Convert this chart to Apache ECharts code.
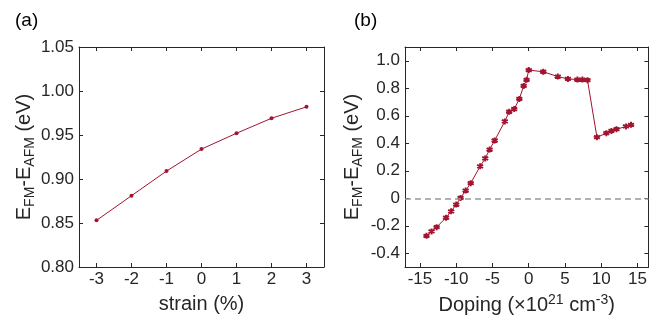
<!DOCTYPE html>
<html>
<head>
<meta charset="utf-8">
<script src="https://cdn.jsdelivr.net/npm/echarts@6/dist/echarts.min.js"></script>
<style>
	html, body { margin: 0; padding: 0; background: #fff; }
	#main { width: 650px; height: 325px; }
</style>
</head>
<body>
<div id="main"></div>
<script>
// (a) strain
var strain = [-3, -2, -1, 0, 1, 2, 3];
var strainE = [0.853, 0.881, 0.909, 0.934, 0.952, 0.969, 0.982];
var strainTicks = [-3, -2, -1, 0, 1, 2, 3];
var energyTicksA = [0.80, 0.85, 0.90, 0.95, 1.00, 1.05];

// (b) doping
var doping = [-14.1, -13.4, -12.7, -11.4, -10.7, -10.0, -9.4, -8.7, -8.0, -6.7, -6.0, -5.4, -4.7,
	-3.3, -2.7, -2.0, -1.3, -0.7, -0.3, 0, 2.0, 4.0, 5.4, 6.7, 7.4, 8.1, 9.4, 10.7, 11.4, 12.1, 13.4, 14.1];
var dopingE = [-0.273, -0.241, -0.210, -0.141, -0.095, -0.046, 0.002, 0.056, 0.110, 0.232, 0.290, 0.354, 0.420,
	0.559, 0.629, 0.649, 0.722, 0.817, 0.861, 0.932, 0.920, 0.885, 0.868, 0.863, 0.863, 0.859, 0.444, 0.473, 0.490, 0.502, 0.522, 0.534];
var dopingTicks = [-15, -10, -5, 0, 5, 10, 15];
var energyTicksB = [-0.4, -0.2, 0, 0.2, 0.4, 0.6, 0.8, 1.0];

var RED = '#A2142F';
var AXIS = '#262626';
var FONT = 'Liberation Sans, Arial, sans-serif';
var STAR = 'path://M5,0L5,10M0.67,2.5L9.33,7.5M0.67,7.5L9.33,2.5';

function pairs(xs, ys) {
	var out = [];
	for (var i = 0; i < xs.length; i++) out.push([xs[i], ys[i]]);
	return out;
}

var nameRich = {
	n: { fontSize: 20, lineHeight: 26, color: AXIS, fontFamily: FONT },
	s: { fontSize: 14, color: AXIS, fontFamily: FONT, verticalAlign: 'bottom' },
	p: { fontSize: 14, color: AXIS, fontFamily: FONT, verticalAlign: 'top' }
};

// an axis with inward ticks; mirror=true gives the box side (no labels)
function axis(type, grid, min, max, ticks, fmt, mirror, extra) {
	var a = {
		type: 'value',
		gridIndex: grid,
		min: min,
		max: max,
		position: mirror ? (type == 'x' ? 'top' : 'right') : (type == 'x' ? 'bottom' : 'left'),
		splitLine: { show: false },
		axisLine: { show: true, onZero: false, lineStyle: { color: AXIS, width: 1 } },
		axisTick: { show: true, inside: true, length: 4, customValues: ticks, lineStyle: { color: AXIS } },
		axisLabel: {
			show: !mirror, customValues: ticks, formatter: fmt,
			color: AXIS, fontSize: 17, fontFamily: FONT, margin: type == 'x' ? 4 : 5
		}
	};
	if (extra) for (var k in extra) a[k] = extra[k];
	return a;
}

var fmtA = function (v) { return v.toFixed(2); };
var fmtB = function (v) { return Math.abs(v) < 1e-9 ? '0' : v.toFixed(1); };
var fmtX = function (v) { return String(Math.round(v)); };

var yName = '{n|E}{s|FM}{n|-E}{s|AFM}{n| (eV)}';

var chart = echarts.init(document.getElementById('main'));
chart.setOption({
	animation: false,
	backgroundColor: '#fff',
	title: [
		{ text: '(a)', left: 10, top: 6, textStyle: { fontSize: 19, fontWeight: 'normal', color: '#000', fontFamily: FONT } },
		{ text: '(b)', left: 349, top: 6, textStyle: { fontSize: 19, fontWeight: 'normal', color: '#000', fontFamily: FONT } }
	],
	grid: [
		{ left: 79, right: 326, top: 47, bottom: 58 },
		{ left: 405, right: 1, top: 47, bottom: 58 }
	],
	xAxis: [
		axis('x', 0, -3.5, 3.5, strainTicks, fmtX, false, {
			name: 'strain (%)', nameLocation: 'middle', nameGap: 27,
			nameTextStyle: { fontSize: 20, color: AXIS, fontFamily: FONT }
		}),
		axis('x', 0, -3.5, 3.5, strainTicks, fmtX, true),
		axis('x', 1, -17.06, 16.5, dopingTicks, fmtX, false, {
			name: '{n|Doping (×10}{p|21}{n| cm}{p|-3}{n|)}', nameLocation: 'middle', nameGap: 24,
			nameTextStyle: { rich: nameRich, color: AXIS }
		}),
		axis('x', 1, -17.06, 16.5, dopingTicks, fmtX, true)
	],
	yAxis: [
		axis('y', 0, 0.8, 1.05, energyTicksA, fmtA, false, {
			name: yName, nameLocation: 'middle', nameGap: 40, nameRotate: 90,
			nameTextStyle: { rich: nameRich, color: AXIS }
		}),
		axis('y', 0, 0.8, 1.05, energyTicksA, fmtA, true),
		axis('y', 1, -0.5, 1.1, energyTicksB, fmtB, false, {
			name: yName, nameLocation: 'middle', nameGap: 40, nameRotate: 90,
			nameTextStyle: { rich: nameRich, color: AXIS }
		}),
		axis('y', 1, -0.5, 1.1, energyTicksB, fmtB, true)
	],
	series: [
		{
			type: 'line', xAxisIndex: 0, yAxisIndex: 0,
			data: pairs(strain, strainE),
			symbol: 'circle', symbolSize: 4,
			lineStyle: { color: RED, width: 1 },
			itemStyle: { color: RED, borderWidth: 0 }
		},
		{
			type: 'line', xAxisIndex: 2, yAxisIndex: 2,
			data: pairs(doping, dopingE),
			symbol: STAR, symbolSize: 6,
			lineStyle: { color: RED, width: 1 },
			itemStyle: { color: RED, borderColor: RED, borderWidth: 2 },
			markLine: {
				silent: true, symbol: 'none',
				label: { show: false },
				lineStyle: { color: '#999', type: [6, 4], width: 1.5 },
				data: [{ yAxis: 0 }]
			}
		}
	]
});
</script>
</body>
</html>
